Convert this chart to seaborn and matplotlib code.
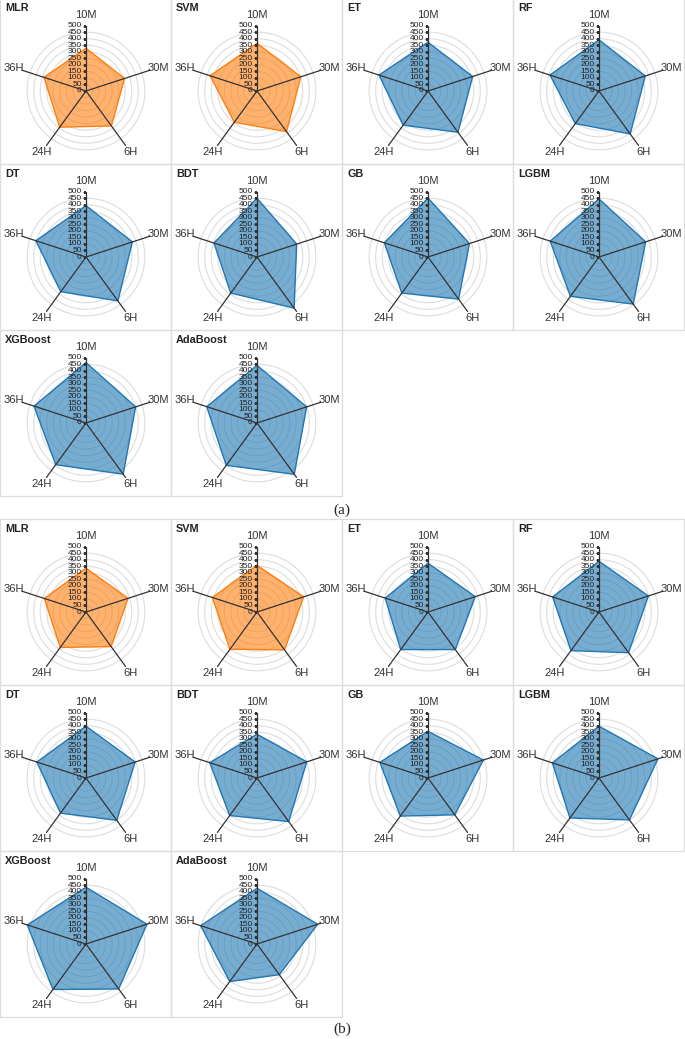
import numpy as np
import matplotlib
matplotlib.use("Agg")
import matplotlib.pyplot as plt
import seaborn as sns

# ---------------- data ----------------
models = ["MLR", "SVM", "ET", "RF", "DT", "BDT", "GB", "LGBM", "XGBoost", "AdaBoost"]
horizons = ["10M", "30M", "6H", "24H", "36H"]
radial_ticks = [0, 50, 100, 150, 200, 250, 300, 350, 400, 450, 500]
grid_levels = [50, 100, 150, 200, 250, 300, 350, 400, 450]

# panel (a): one list per horizon, ordered like `models`
a_10M = [327, 365, 373, 391, 393, 449, 451, 444, 462, 441]
a_30M = [310, 352, 359, 372, 373, 319, 333, 375, 399, 399]
a_6H = [330, 384, 390, 406, 415, 483, 398, 445, 484, 485]
a_24H = [342, 295, 323, 308, 328, 341, 341, 372, 394, 400]
a_36H = [338, 377, 394, 394, 403, 346, 351, 392, 418, 404]

# panel (b)
b_10M = [335, 357, 373, 388, 396, 335, 357, 396, 434, 426]
b_30M = [338, 375, 380, 397, 395, 400, 445, 474, 490, 488]
b_6H = [327, 358, 355, 385, 400, 412, 348, 396, 425, 290]
b_24H = [335, 352, 355, 365, 332, 355, 360, 378, 430, 355]
b_36H = [335, 359, 344, 373, 395, 380, 387, 375, 472, 453]

orange_models = ["MLR", "SVM"]

# ---------------- style ----------------
sns.set_style("white")
plt.rcParams["font.family"] = ["Liberation Sans", "DejaVu Sans"]

BLUE = "#1f77b4"
ORANGE = "#ff7f0e"
AXIS_C = "#333333"
GRID_C = "#dddddd"

W, H = 685, 1039
fig = plt.figure(figsize=(W / 100, H / 100), dpi=100)


def fx(px):
    return px / W


def fy(py):
    return 1 - py / H


CW, RH = 171, 166
R_PX = 68          # pixel radius of polar axes
RMAX = 520         # data radius at R_PX
angles = np.deg2rad(np.arange(5) * 72.0)
circle_t = np.linspace(0, 2 * np.pi, 241)


def draw_panel(top, cols, tag, tag_y):
    for i, name in enumerate(models):
        r, c = divmod(i, 4)
        left = c * CW
        ctop = top + r * RH
        fig.add_artist(plt.Rectangle((fx(left), fy(ctop + RH)), CW / W, RH / H,
                                     transform=fig.transFigure, fill=False,
                                     ec=GRID_C, lw=0.9))
        fig.text(fx(left + 5), fy(ctop + 10), name, fontsize=7.8,
                 weight="bold", ha="left", va="center", color="#222222")
        cx, cy = left + 86, ctop + 93
        ax = fig.add_axes([fx(cx - R_PX), fy(cy + R_PX), 2 * R_PX / W, 2 * R_PX / H],
                          projection="polar")
        ax.set_theta_zero_location("N")
        ax.set_theta_direction(-1)
        ax.set_ylim(0, RMAX)
        ax.set_axis_off()
        ax.patch.set_alpha(0)

        for g in grid_levels:
            ax.plot(circle_t, np.full_like(circle_t, g), color=GRID_C, lw=0.8, zorder=1)

        vals = [cols[k][i] for k in range(5)]
        th = np.append(angles, angles[0])
        vv = np.append(vals, vals[0])
        color = ORANGE if name in orange_models else BLUE
        ax.fill(th, vv, color=color, alpha=0.6, lw=0, zorder=2)
        sns.lineplot(x=th, y=vv, sort=False, estimator=None, ax=ax,
                     color=color, lw=1.0, zorder=3)
        ax.set_axis_off()

        for k, a in enumerate(angles):
            rend = 500 if k == 0 else 515
            ax.plot([a, a], [0, rend], color=AXIS_C, lw=0.9, zorder=4)
            ax.text(a, 580, horizons[k], ha="center", va="center", fontsize=8,
                    color="#333333", clip_on=False)

        ax.plot([0] * len(radial_ticks), radial_ticks, ls="none",
                marker=[(-1, 0), (0, 0)], ms=4, mew=0.8, mec=AXIS_C, zorder=5)
        for v in radial_ticks:
            ax.annotate(str(v), xy=(0, v), xytext=(-3, 0), textcoords="offset points",
                        ha="right", va="center", fontsize=6, color="#222222")

    fig.text(fx(342), fy(tag_y), tag, fontsize=11, ha="center", va="center",
             family="Liberation Serif")


draw_panel(-2, [a_10M, a_30M, a_6H, a_24H, a_36H], "(a)", 510)
draw_panel(519, [b_10M, b_30M, b_6H, b_24H, b_36H], "(b)", 1029)

fig.savefig("out.png", dpi=100, facecolor="white")
